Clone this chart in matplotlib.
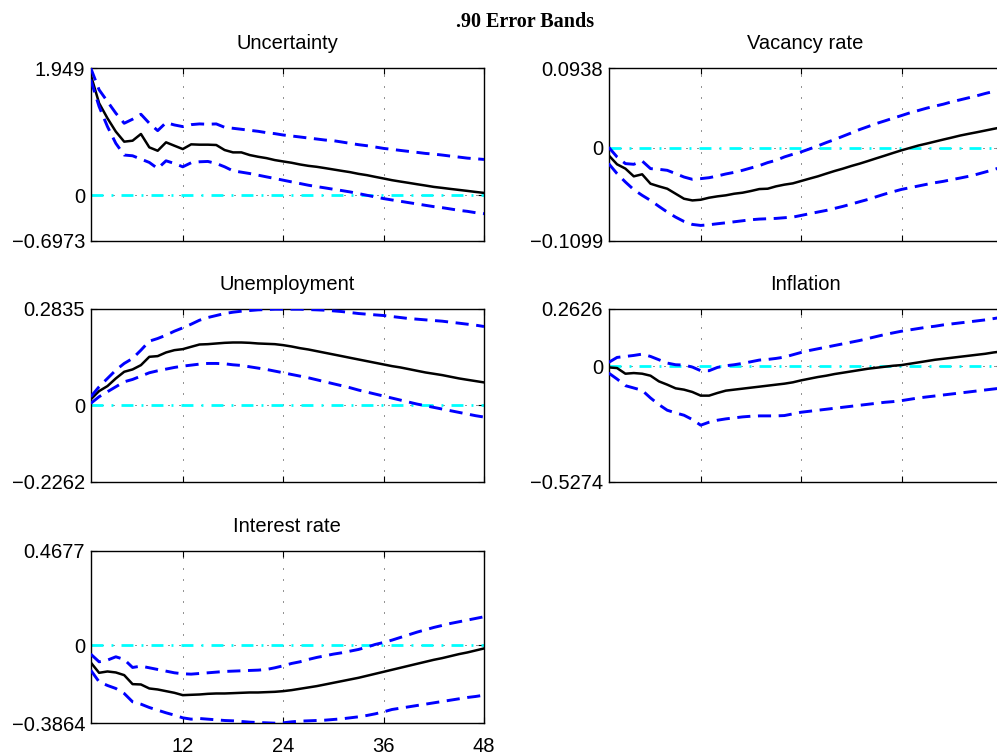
import numpy as np
import matplotlib
matplotlib.use("Agg")
import matplotlib.pyplot as plt

plt.rcParams['font.family'] = ['Liberation Sans', 'DejaVu Sans']

# horizon (months)
months = np.arange(1, 49)
xticks = [12, 24, 36, 48]

titles = ['Uncertainty', 'Vacancy rate', 'Unemployment', 'Inflation', 'Interest rate']
ylims = [(-0.6973, 1.949), (-0.1099, 0.0938), (-0.2262, 0.2835),
         (-0.5274, 0.2626), (-0.3864, 0.4677)]

# median responses
unc_med = [1.847, 1.411, 1.180, 0.975, 0.821, 0.836, 0.939, 0.734, 0.682, 0.811, 0.759, 0.708,
           0.780, 0.775, 0.775, 0.770, 0.693, 0.657, 0.657, 0.616, 0.590, 0.569, 0.539, 0.518,
           0.498, 0.472, 0.451, 0.436, 0.416, 0.395, 0.374, 0.354, 0.328, 0.308, 0.282, 0.257,
           0.231, 0.210, 0.190, 0.169, 0.149, 0.128, 0.113, 0.097, 0.082, 0.067, 0.051, 0.036]
unc_hi = [1.949, 1.616, 1.436, 1.257, 1.103, 1.165, 1.241, 1.103, 0.990, 1.113, 1.077, 1.052,
          1.082, 1.093, 1.088, 1.093, 1.041, 1.026, 1.011, 0.995, 0.980, 0.959, 0.944, 0.923,
          0.908, 0.893, 0.877, 0.862, 0.846, 0.836, 0.816, 0.795, 0.775, 0.759, 0.739, 0.718,
          0.703, 0.687, 0.672, 0.657, 0.641, 0.631, 0.616, 0.600, 0.585, 0.569, 0.559, 0.549]
unc_lo = [1.770, 1.359, 1.052, 0.795, 0.616, 0.605, 0.554, 0.503, 0.410, 0.528, 0.487, 0.436,
          0.498, 0.513, 0.518, 0.487, 0.436, 0.374, 0.354, 0.333, 0.308, 0.282, 0.257, 0.231,
          0.205, 0.180, 0.154, 0.133, 0.113, 0.092, 0.072, 0.051, 0.026, 0.000, -0.026, -0.051,
          -0.072, -0.092, -0.113, -0.133, -0.154, -0.174, -0.190, -0.210, -0.231, -0.246, -0.267, -0.282]

vac_med = [-0.0091, -0.0197, -0.0248, -0.0339, -0.0315, -0.0426, -0.0457, -0.0485, -0.0544, -0.0603,
           -0.0623, -0.0615, -0.0591, -0.0575, -0.0563, -0.0544, -0.0532, -0.0512, -0.0489, -0.0485,
           -0.0457, -0.0437, -0.0422, -0.0394, -0.0366, -0.0339, -0.0307, -0.0276, -0.0248, -0.0217,
           -0.0189, -0.0158, -0.0126, -0.0095, -0.0063, -0.0032, -0.0004, 0.0024, 0.0047, 0.0071,
           0.0095, 0.0118, 0.0142, 0.0162, 0.0181, 0.0201, 0.0221, 0.0240]
vac_hi = [0.0004, -0.0110, -0.0189, -0.0197, -0.0158, -0.0248, -0.0256, -0.0268, -0.0307, -0.0347,
          -0.0374, -0.0366, -0.0355, -0.0335, -0.0311, -0.0292, -0.0268, -0.0240, -0.0213, -0.0177,
          -0.0150, -0.0110, -0.0079, -0.0051, -0.0016, 0.0020, 0.0059, 0.0095, 0.0134, 0.0173,
          0.0213, 0.0248, 0.0284, 0.0315, 0.0347, 0.0378, 0.0410, 0.0437, 0.0465, 0.0489,
          0.0512, 0.0540, 0.0563, 0.0587, 0.0611, 0.0638, 0.0662, 0.0686]
vac_lo = [-0.0189, -0.0307, -0.0406, -0.0496, -0.0563, -0.0623, -0.0693, -0.0760, -0.0820, -0.0871,
          -0.0906, -0.0918, -0.0910, -0.0898, -0.0887, -0.0875, -0.0863, -0.0851, -0.0843, -0.0839,
          -0.0835, -0.0827, -0.0820, -0.0800, -0.0780, -0.0760, -0.0741, -0.0717, -0.0693, -0.0666,
          -0.0638, -0.0611, -0.0579, -0.0548, -0.0520, -0.0493, -0.0473, -0.0453, -0.0433, -0.0414,
          -0.0398, -0.0378, -0.0359, -0.0339, -0.0315, -0.0288, -0.0260, -0.0229]

unemp_med = [0.0167, 0.0412, 0.0560, 0.0786, 0.0982, 0.1051, 0.1178, 0.1424, 0.1444, 0.1552,
             0.1620, 0.1650, 0.1719, 0.1787, 0.1797, 0.1817, 0.1836, 0.1846, 0.1846, 0.1836,
             0.1817, 0.1807, 0.1797, 0.1768, 0.1728, 0.1679, 0.1640, 0.1591, 0.1542, 0.1493,
             0.1444, 0.1394, 0.1345, 0.1296, 0.1247, 0.1198, 0.1149, 0.1110, 0.1061, 0.1011,
             0.0962, 0.0923, 0.0884, 0.0835, 0.0786, 0.0746, 0.0707, 0.0668]
unemp_hi = [0.0246, 0.0540, 0.0786, 0.1031, 0.1228, 0.1375, 0.1620, 0.1885, 0.1964, 0.2062,
            0.2180, 0.2278, 0.2386, 0.2504, 0.2583, 0.2642, 0.2701, 0.2740, 0.2769, 0.2789,
            0.2809, 0.2818, 0.2828, 0.2828, 0.2828, 0.2828, 0.2818, 0.2809, 0.2799, 0.2779,
            0.2759, 0.2730, 0.2701, 0.2681, 0.2661, 0.2642, 0.2612, 0.2583, 0.2553, 0.2534,
            0.2514, 0.2494, 0.2475, 0.2445, 0.2416, 0.2386, 0.2357, 0.2318]
unemp_lo = [0.0049, 0.0246, 0.0393, 0.0540, 0.0687, 0.0756, 0.0854, 0.0953, 0.1011, 0.1061,
            0.1110, 0.1149, 0.1178, 0.1208, 0.1228, 0.1228, 0.1218, 0.1188, 0.1169, 0.1129,
            0.1090, 0.1051, 0.1002, 0.0953, 0.0903, 0.0854, 0.0805, 0.0746, 0.0687, 0.0628,
            0.0570, 0.0511, 0.0442, 0.0383, 0.0324, 0.0265, 0.0206, 0.0147, 0.0088, 0.0029,
            -0.0020, -0.0069, -0.0118, -0.0167, -0.0216, -0.0265, -0.0314, -0.0354]

infl_med = [-0.0046, -0.0076, -0.0334, -0.0304, -0.0334, -0.0425, -0.0684, -0.0835, -0.1003, -0.1063,
            -0.1170, -0.1337, -0.1337, -0.1215, -0.1109, -0.1063, -0.1018, -0.0972, -0.0927, -0.0881,
            -0.0835, -0.0790, -0.0729, -0.0638, -0.0562, -0.0486, -0.0425, -0.0349, -0.0289, -0.0228,
            -0.0167, -0.0106, -0.0061, -0.0015, 0.0030, 0.0061, 0.0122, 0.0182, 0.0243, 0.0304,
            0.0349, 0.0395, 0.0441, 0.0486, 0.0532, 0.0577, 0.0638, 0.0684]
infl_hi = [0.0182, 0.0410, 0.0456, 0.0501, 0.0562, 0.0456, 0.0304, 0.0152, 0.0076, 0.0061,
           -0.0030, -0.0197, -0.0197, -0.0046, 0.0030, 0.0076, 0.0137, 0.0213, 0.0289, 0.0319,
           0.0365, 0.0425, 0.0532, 0.0638, 0.0729, 0.0805, 0.0881, 0.0957, 0.1033, 0.1109,
           0.1185, 0.1276, 0.1367, 0.1458, 0.1534, 0.1610, 0.1671, 0.1732, 0.1792, 0.1838,
           0.1899, 0.1944, 0.1990, 0.2035, 0.2081, 0.2127, 0.2187, 0.2248]
infl_lo = [-0.0304, -0.0577, -0.0881, -0.0987, -0.1094, -0.1443, -0.1747, -0.2005, -0.2127, -0.2233,
           -0.2430, -0.2689, -0.2552, -0.2461, -0.2400, -0.2354, -0.2309, -0.2279, -0.2263, -0.2263,
           -0.2263, -0.2248, -0.2172, -0.2096, -0.2051, -0.2005, -0.1960, -0.1914, -0.1868, -0.1823,
           -0.1777, -0.1732, -0.1686, -0.1641, -0.1610, -0.1565, -0.1504, -0.1443, -0.1397, -0.1352,
           -0.1306, -0.1261, -0.1215, -0.1170, -0.1124, -0.1078, -0.1033, -0.0987]

rate_med = [-0.0857, -0.1369, -0.1303, -0.1352, -0.1484, -0.1929, -0.1946, -0.2144, -0.2193, -0.2276,
            -0.2358, -0.2474, -0.2457, -0.2441, -0.2408, -0.2391, -0.2391, -0.2375, -0.2358, -0.2342,
            -0.2342, -0.2325, -0.2309, -0.2276, -0.2226, -0.2160, -0.2094, -0.2028, -0.1946, -0.1863,
            -0.1781, -0.1698, -0.1616, -0.1517, -0.1418, -0.1319, -0.1220, -0.1121, -0.1022, -0.0923,
            -0.0825, -0.0726, -0.0643, -0.0544, -0.0445, -0.0363, -0.0264, -0.0165]
rate_hi = [-0.0445, -0.0825, -0.0742, -0.0577, -0.0709, -0.1105, -0.1039, -0.1121, -0.1204, -0.1286,
           -0.1369, -0.1418, -0.1435, -0.1402, -0.1369, -0.1336, -0.1303, -0.1286, -0.1270, -0.1253,
           -0.1237, -0.1204, -0.1121, -0.1022, -0.0907, -0.0825, -0.0709, -0.0610, -0.0528, -0.0445,
           -0.0379, -0.0297, -0.0214, -0.0099, 0.0033, 0.0132, 0.0247, 0.0379, 0.0511, 0.0643,
           0.0759, 0.0874, 0.0973, 0.1072, 0.1154, 0.1237, 0.1319, 0.1402]
rate_lo = [-0.1237, -0.1814, -0.1995, -0.2144, -0.2391, -0.2803, -0.2919, -0.3084, -0.3216, -0.3347,
           -0.3463, -0.3595, -0.3661, -0.3628, -0.3661, -0.3694, -0.3727, -0.3743, -0.3776, -0.3809,
           -0.3826, -0.3842, -0.3859, -0.3842, -0.3793, -0.3760, -0.3743, -0.3727, -0.3710, -0.3677,
           -0.3644, -0.3595, -0.3545, -0.3479, -0.3397, -0.3298, -0.3183, -0.3117, -0.3051, -0.2985,
           -0.2919, -0.2853, -0.2787, -0.2721, -0.2655, -0.2589, -0.2539, -0.2474]

medians = [unc_med, vac_med, unemp_med, infl_med, rate_med]
uppers = [unc_hi, vac_hi, unemp_hi, infl_hi, rate_hi]
lowers = [unc_lo, vac_lo, unemp_lo, infl_lo, rate_lo]

# axes rectangles in figure coordinates (left column / right column, 3 rows)
col_x = [0.0910, 0.6105]
row_y = [0.6815, 0.3628, 0.0433]
ax_w, ax_h = 0.3945, 0.2285
FS = 14.5


def fmt(v):
    return '{:g}'.format(v).replace('-', '\u2212')


fig = plt.figure(figsize=(9.97, 7.56), dpi=100)

for i, name in enumerate(titles):
    row, col = divmod(i, 2)
    ax = fig.add_axes([col_x[col], row_y[row], ax_w, ax_h])
    lo, hi = ylims[i]

    ax.plot(months, medians[i], color='k', lw=1.8, zorder=3)
    ax.plot(months, uppers[i], color='#0000ff', lw=2.1, dashes=(4.5, 2.6), zorder=3)
    ax.plot(months, lowers[i], color='#0000ff', lw=2.1, dashes=(4.5, 2.6), zorder=3)
    ax.plot(months, np.zeros(len(months)), color='#00ffff', lw=2.0,
            dashes=(4.3, 2.9, 0.7, 2.9), zorder=2)

    ax.set_xlim(1, 48)
    ax.set_ylim(lo, hi)
    ax.set_xticks(xticks)
    ax.set_yticks([lo, 0, hi])
    ax.set_yticklabels([fmt(lo), '0', fmt(hi)])
    if i == 4:
        ax.set_xticklabels([str(t) for t in xticks])
    else:
        ax.set_xticklabels([])

    ax.grid(True, color='k', lw=0.6, dashes=(1.2, 12), zorder=1)
    ax.tick_params(direction='in', length=4, width=0.8, top=True, right=True,
                   labelsize=FS)
    ax.tick_params(axis='y', pad=4)
    ax.tick_params(axis='x', pad=10)
    for sp in ax.spines.values():
        sp.set_linewidth(1.0)
    ax.set_title(name, fontsize=FS, pad=13.5)

fig.text(0.5266, 0.964, '.90 Error Bands', ha='center', va='baseline',
         fontsize=FS, fontweight='bold', family=['Liberation Serif', 'DejaVu Serif'])

fig.savefig('out.png', dpi=100)
